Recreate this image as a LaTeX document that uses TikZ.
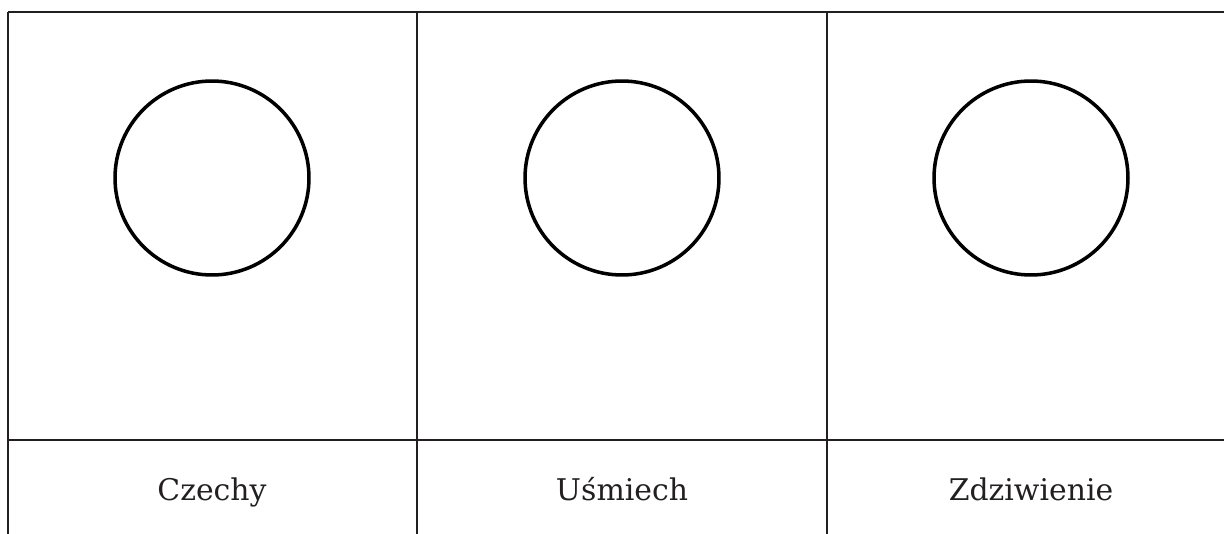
\documentclass[tikz,border=0pt]{standalone}
\usepackage{fontspec}
\setmainfont{DejaVu Serif}
\usetikzlibrary{positioning}
\definecolor{ramka}{RGB}{35,31,32}
\tikzset{
  linia/.style={draw=ramka, line width=1.4pt},
  kolo/.style={circle, draw=black, line width=2pt, inner sep=0pt, minimum size=3.88cm},
  podpis/.style={anchor=base, text=ramka, font=\fontsize{17}{20}\selectfont},
}
\begin{document}
\begin{tikzpicture}[x=0.02cm,y=-0.02cm]
  \useasboundingbox (0,0) rectangle (1224,534);
  % linie tabeli
  \draw[linia] (8,12) -- (1224,12);
  \draw[linia] (8,440) -- (1224,440);
  \foreach \lx in {8,417,827} {
    \draw[linia] (\lx,12) -- (\lx,534);
  }
  % kółka i podpisy
  \foreach \cx/\napis [count=\k] in {212/Czechy, 622/Uśmiech, 1031/Zdziwienie} {
    \node[kolo] (kolo\k) at (\cx,178) {};
    \node[podpis] (podpis\k) at (\cx,500) {\napis};
  }
\end{tikzpicture}
\end{document}
